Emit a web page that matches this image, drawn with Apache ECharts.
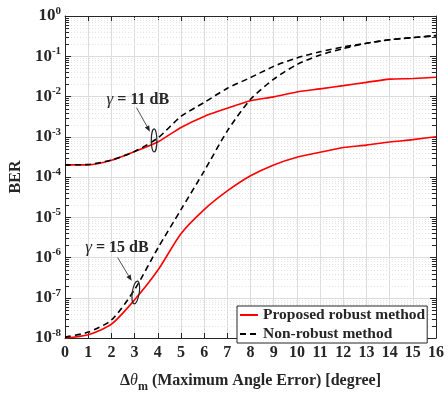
<!DOCTYPE html>
<html><head><meta charset="utf-8">
<script src="https://cdn.jsdelivr.net/npm/echarts@6/dist/echarts.min.js"></script>
<style>html,body{margin:0;padding:0;background:#fff}#c{width:448px;height:398px}</style>
</head><body><div id="c"></div>
<script>
// ---- data ----
const xValues = [0,1,2,3,4,5,6,7,8,9,10,11,12,13,14,15,16];
const proposed11 = [2.0e-4,2.0e-4,2.6e-4,4.3e-4,7.4e-4,1.7e-3,3.2e-3,5.1e-3,7.8e-3,9.8e-3,1.3e-2,1.55e-2,1.86e-2,2.24e-2,2.7e-2,2.8e-2,3.0e-2];
const nonRobust11 = [2.0e-4,2.05e-4,2.65e-4,4.3e-4,9.3e-4,3.2e-3,7.1e-3,1.6e-2,2.95e-2,5.6e-2,9.1e-2,0.129,0.17,0.21,0.257,0.29,0.325];
const proposed15 = [1.0e-8,1.2e-8,2.2e-8,8.9e-8,4.8e-7,3.9e-6,1.55e-5,4.5e-5,1.07e-4,2.0e-4,3.1e-4,4.1e-4,5.4e-4,6.2e-4,7.4e-4,8.5e-4,1.0e-3];
const nonRobust15 = [1.05e-8,1.4e-8,2.8e-8,1.6e-7,1.7e-6,1.55e-5,1.4e-4,1.4e-3,8.5e-3,2.7e-2,6.2e-2,0.107,0.155,0.21,0.257,0.29,0.325];
const yExponents = [-8,-7,-6,-5,-4,-3,-2,-1,0];
const minorMultipliers = [2,3,4,5,6,7,8,9];
const seriesNames = ['Proposed robust method','Non-robust method'];
const annot11 = {text:'= 11 dB', label:[3.14,8.2e-3], arrowFrom:[3.08,5.3e-3], arrowTo:[3.66,1.34e-3], ellipse:[3.84,8.1e-4]};
const annot15 = {text:'= 15 dB', label:[2.24,1.78e-6], arrowFrom:[2.27,9.9e-7], arrowTo:[2.87,2.63e-7], ellipse:[3.05,1.35e-7]};

// ---- chart ----
const FONT = 'Liberation Serif';
const TXT = '#262626';
const pair = (xs, ys) => xs.map((x,i)=>[x, ys[i]]);
const minorVals = [];
yExponents.slice(0,-1).forEach(e => minorMultipliers.forEach(m => minorVals.push(m*Math.pow(10,e))));

const chart = echarts.init(document.getElementById('c'), null, {renderer:'canvas'});
const yLabel = {
  fontFamily: FONT, color: TXT, margin: 4,
  formatter: v => '{b|10}{s|' + Math.round(Math.log10(v)) + '}',
  rich: {
    b: {fontFamily: FONT, fontWeight:'bold', fontSize:17, color:TXT},
    s: {fontFamily: FONT, fontWeight:'bold', fontSize:11, color:TXT, padding:[0,0,10,0]}
  }
};
const lineSeries = (name, data, color, dashed) => ({
  name, type:'line', data, symbol:'none', showSymbol:false, smooth:0.25, silent:true,
  lineStyle:{color, width:1.6, type: dashed ? [6,4] : 'solid'},
  itemStyle:{color}, z: dashed ? 4 : 3
});

const minorSeries = {
  type:'custom', silent:true, z:1,
  data: minorVals.map(v => [0, v]),
  encode:{x:0, y:1},
  renderItem: (params, api) => {
    const cs = params.coordSys;
    const y = Math.round(api.coord([0, api.value(1)])[1]) + 0.5;
    return {type:'group', children:[
      {type:'line', shape:{x1:cs.x, y1:y, x2:cs.x+cs.width, y2:y}, style:{stroke:'#e4e4e4', lineWidth:1, lineDash:[1,2]}},
      {type:'line', shape:{x1:cs.x, y1:y, x2:cs.x+4, y2:y}, style:{stroke:TXT, lineWidth:1}},
      {type:'line', shape:{x1:cs.x+cs.width-4, y1:y, x2:cs.x+cs.width, y2:y}, style:{stroke:TXT, lineWidth:1}}
    ]};
  }
};

chart.setOption({
  animation:false,
  backgroundColor:'#fff',
  grid:{left:64, right:12, top:16, bottom:48},
  legend:{
    orient:'vertical', left:237, top:306,
    data: seriesNames,
    itemWidth:18, itemHeight:10, itemGap:3,
    padding:[1,2,1,2],
    itemStyle:{opacity:0, borderWidth:0},
    backgroundColor:'#fff', borderColor:TXT, borderWidth:1,
    textStyle:{fontFamily:FONT, fontWeight:'bold', fontSize:15.5, color:TXT}
  },
  xAxis:[{
    type:'value', min:0, max:16, interval:1,
    name:'{d|Δ}{t|θ}{m|m}{n| (Maximum Angle Error) [degree]}',
    nameLocation:'middle', nameGap:31,
    nameTextStyle:{fontFamily:FONT, color:TXT, rich:{
      d:{fontFamily:FONT, fontSize:16, fontWeight:'bold', color:TXT},
      t:{fontFamily:FONT, fontSize:16, fontStyle:'italic', color:TXT},
      m:{fontFamily:FONT, fontSize:12, fontWeight:'bold', color:TXT, padding:[12,0,0,0]},
      n:{fontFamily:FONT, fontSize:16, fontWeight:'bold', color:TXT}
    }},
    axisLine:{show:true, onZero:false, lineStyle:{color:TXT, width:1}},
    axisTick:{show:true, inside:true, length:5, lineStyle:{color:TXT}},
    axisLabel:{fontFamily:FONT, fontWeight:'bold', fontSize:16, color:TXT, margin:7},
    splitLine:{show:true, lineStyle:{color:'#dcdcdc', width:1}}
  },{
    type:'value', min:0, max:16, interval:1, position:'top',
    axisLine:{show:true, onZero:false, lineStyle:{color:TXT, width:1}},
    axisTick:{show:true, inside:true, length:5, lineStyle:{color:TXT}},
    axisLabel:{show:false}, splitLine:{show:false}
  }],
  yAxis:[{
    type:'log', logBase:10, min:1e-8, max:1,
    name:'BER', nameLocation:'middle', nameGap:30,
    nameTextStyle:{fontFamily:FONT, fontWeight:'bold', fontSize:16, color:TXT},
    axisLine:{show:true, onZero:false, lineStyle:{color:TXT, width:1}},
    axisTick:{show:true, inside:true, length:6, lineStyle:{color:TXT}},
    axisLabel: yLabel,
    splitLine:{show:true, lineStyle:{color:'#dcdcdc', width:1}}
  },{
    type:'log', logBase:10, min:1e-8, max:1, position:'right',
    axisLine:{show:true, onZero:false, lineStyle:{color:TXT, width:1}},
    axisTick:{show:true, inside:true, length:6, lineStyle:{color:TXT}},
    axisLabel:{show:false}, splitLine:{show:false}
  }],
  series:[
    minorSeries,
    lineSeries(seriesNames[0], pair(xValues, proposed11), '#ff0000', false),
    lineSeries(seriesNames[1], pair(xValues, nonRobust11), '#000000', true),
    lineSeries(seriesNames[0], pair(xValues, proposed15), '#ff0000', false),
    lineSeries(seriesNames[1], pair(xValues, nonRobust15), '#000000', true)
  ]
});

// ---- annotations ----
function px(p){ return chart.convertToPixel({xAxisIndex:0, yAxisIndex:0}, p); }
function annotation(a, rx, ry, rot){
  const lab = px(a.label), f = px(a.arrowFrom), t = px(a.arrowTo), e = px(a.ellipse);
  const ang = Math.atan2(t[1]-f[1], t[0]-f[0]);
  const hl = 6, hw = 2.5;
  const bx = t[0]-hl*Math.cos(ang), by = t[1]-hl*Math.sin(ang);
  return [
    {type:'text', x:lab[0], y:lab[1], style:{
      text:'{g|γ}{r| ' + a.text + '}', align:'center', verticalAlign:'middle',
      rich:{g:{fontFamily:FONT, fontStyle:'italic', fontSize:17, fill:TXT},
            r:{fontFamily:FONT, fontWeight:'bold', fontSize:16, fill:TXT}}
    }, z:20},
    {type:'line', shape:{x1:f[0], y1:f[1], x2:bx, y2:by}, style:{stroke:TXT, lineWidth:0.8}, z:20},
    {type:'polygon', shape:{points:[[t[0],t[1]],[bx+hw*Math.sin(ang), by-hw*Math.cos(ang)],[bx-hw*Math.sin(ang), by+hw*Math.cos(ang)]]}, style:{fill:TXT}, z:20},
    {type:'ellipse', shape:{cx:0, cy:0, rx:rx, ry:ry}, x:e[0], y:e[1], rotation:rot, style:{fill:'none', stroke:TXT, lineWidth:1.2}, z:20}
  ];
}
chart.setOption({graphic:{elements:[...annotation(annot11, 2.8, 11.5, 0), ...annotation(annot15, 3.5, 11.5, -0.15)]}});
</script></body></html>
